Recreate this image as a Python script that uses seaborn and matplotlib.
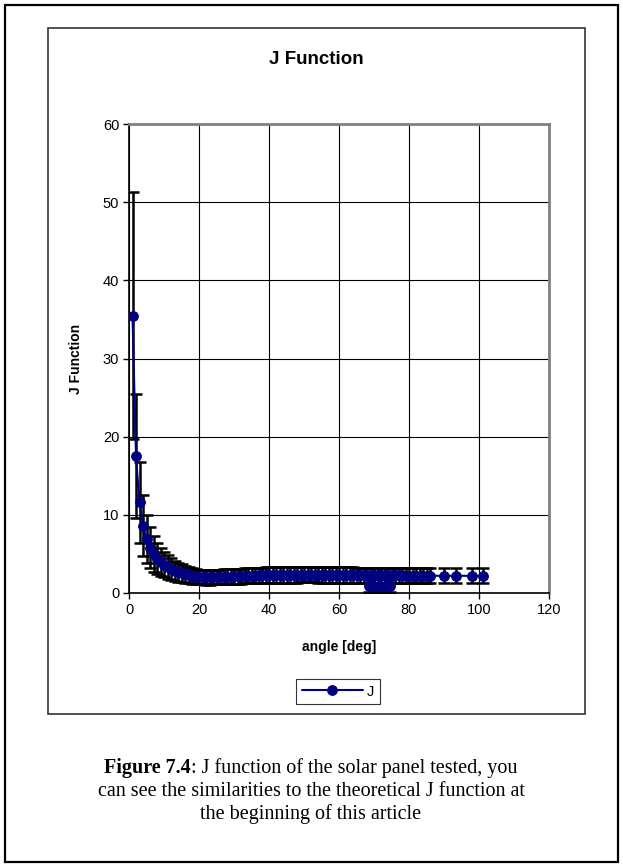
import matplotlib
matplotlib.use("Agg")
import matplotlib.pyplot as plt
from matplotlib.patches import Rectangle
import seaborn as sns
import pandas as pd

# main series
angle = [1, 2, 3, 4, 5, 6, 7, 8, 9, 10,
         11, 12, 13, 14, 15, 16, 17, 18, 19, 20,
         21, 22, 23, 24, 25, 26, 27, 28, 29, 30,
         31, 32, 33, 34, 35, 36, 37, 38, 39, 40,
         41, 42, 43, 44, 45, 46, 47, 48, 49, 50,
         51, 52, 53, 54, 55, 56, 57, 58, 59, 60,
         61, 62, 63, 64, 65, 66, 67, 68, 69, 70,
         71, 72, 73, 74, 75, 76, 77, 78, 79, 80,
         81, 82, 83, 84, 85, 86, 90, 93.5, 98, 101]
j_value = [35.5, 17.5, 11.6, 8.6, 6.9, 5.8, 5.0, 4.4, 3.95, 3.6,
           3.3, 3.05, 2.85, 2.65, 2.5, 2.38, 2.27, 2.18, 2.1, 2.05,
           2.02, 2.0, 2.0, 2.01, 2.03, 2.05, 2.07, 2.09, 2.11, 2.13,
           2.15, 2.17, 2.19, 2.2, 2.22, 2.23, 2.25, 2.26, 2.27, 2.28,
           2.29, 2.3, 2.31, 2.32, 2.33, 2.33, 2.34, 2.34, 2.35, 2.35,
           2.35, 2.35, 2.35, 2.34, 2.34, 2.34, 2.33, 2.33, 2.32, 2.32,
           2.31, 2.31, 2.3, 2.3, 2.29, 2.29, 2.28, 2.28, 2.27, 2.27,
           2.26, 2.26, 2.25, 2.25, 2.25, 2.24, 2.24, 2.24, 2.23, 2.23,
           2.23, 2.22, 2.22, 2.22, 2.21, 2.21, 2.2, 2.2, 2.2, 2.2]
j_err = [15.8, 7.9, 5.2, 3.9, 3.1, 2.6, 2.25, 2.0, 1.8, 1.6,
         1.5, 1.4, 1.3, 1.2, 1.15, 1.1, 1.05, 1.0, 0.97, 0.95,
         0.93, 0.92, 0.92, 0.92, 0.93, 0.93, 0.94, 0.94, 0.95, 0.95,
         0.96, 0.96, 0.97, 0.97, 0.98, 0.98, 0.99, 0.99, 1.0, 1.0,
         1.0, 1.0, 1.0, 1.0, 1.0, 1.0, 1.0, 1.0, 1.0, 1.0,
         1.0, 1.0, 1.0, 1.0, 1.0, 1.0, 1.0, 1.0, 1.0, 1.0,
         0.98, 0.98, 0.98, 0.97, 0.97, 0.97, 0.96, 0.96, 0.96, 0.96,
         0.95, 0.95, 0.95, 0.95, 0.95, 0.95, 0.95, 0.95, 0.95, 0.95,
         0.95, 0.95, 0.95, 0.95, 0.95, 0.95, 0.95, 0.95, 0.95, 0.95]

# small group of low points around 70 deg
angle_low = [68.5, 70, 71.5, 73, 74.5]
j_low = [0.93, 0.93, 0.93, 0.93, 0.93]
err_low = [0.8, 0.8, 0.8, 0.8, 0.8]

x_ticks = [0, 20, 40, 60, 80, 100, 120]
y_ticks = [0, 10, 20, 30, 40, 50, 60]

navy = "#000080"
W, H = 623, 865

sns.set_style("white")
plt.rcParams['font.family'] = ['Liberation Sans', 'DejaVu Sans']
plt.rcParams['text.color'] = 'black'
plt.rcParams['axes.labelcolor'] = 'black'
plt.rcParams['xtick.color'] = 'black'
plt.rcParams['ytick.color'] = 'black'

fig = plt.figure(figsize=(W / 100, H / 100), dpi=100)
ax = fig.add_axes([129 / W, 1 - 593 / H, 420 / W, 469 / H])

df = pd.DataFrame({"angle": angle, "J": j_value})
df_low = pd.DataFrame({"angle": angle_low, "J": j_low})

ax.errorbar(angle, j_value, yerr=j_err, fmt="none", ecolor="black",
            elinewidth=1.8, capsize=4.5, capthick=1.8, zorder=2)
ax.errorbar(angle_low, j_low, yerr=err_low, fmt="none", ecolor="black",
            elinewidth=1.8, capsize=4.5, capthick=1.8, zorder=2)
sns.lineplot(data=df, x="angle", y="J", sort=False, color=navy, linewidth=1.5,
             marker="o", markersize=7, markeredgecolor=navy, label="J",
             ax=ax, zorder=3)
sns.lineplot(data=df_low, x="angle", y="J", sort=False, color=navy, linewidth=1.5,
             marker="o", markersize=7, markeredgecolor=navy, legend=False,
             ax=ax, zorder=3)

ax.set_xlim(0, 120)
ax.set_ylim(0, 60)
ax.set_xticks(x_ticks)
ax.set_yticks(y_ticks)
ax.grid(True, color="black", linewidth=0.8)
ax.set_axisbelow(True)
ax.tick_params(axis="both", direction="out", length=4, width=1, color="black",
               labelsize=10.5, pad=3, left=True, bottom=True)
for side in ["left", "bottom"]:
    ax.spines[side].set_color("black")
    ax.spines[side].set_linewidth(1.2)
for side in ["top", "right"]:
    ax.spines[side].set_color("#808080")
    ax.spines[side].set_linewidth(2)

ax.set_xlabel("angle [deg]", fontsize=10, fontweight="bold")
ax.set_ylabel("J Function", fontsize=10, fontweight="bold")
ax.xaxis.set_label_coords(0.5, -0.1)
ax.yaxis.set_label_coords(-0.11, 0.5)

ax.legend_.remove()
handles, labels = ax.get_legend_handles_labels()
leg = fig.legend(handles, labels, loc="center", bbox_to_anchor=(338 / W, 1 - 691.5 / H),
                 fontsize=10.5, frameon=True, fancybox=False, edgecolor="black",
                 handlelength=4.2, borderpad=0.35, handletextpad=0.3)
leg.get_frame().set_linewidth(0.8)

fig.text(316 / W, 1 - 60 / H, "J Function", ha="center", va="center",
         fontsize=13.5, fontweight="bold")

# chart area box and page border
fig.patches.append(Rectangle((48 / W, 1 - 714 / H), 537 / W, 686 / H, transform=fig.transFigure,
                             fill=False, edgecolor="#333333", linewidth=1.2))
fig.patches.append(Rectangle((5 / W, 3 / H), 613 / W, 857 / H, transform=fig.transFigure,
                             fill=False, edgecolor="black", linewidth=1.6))

# caption
serif = ['Liberation Serif', 'DejaVu Serif']
cap_size = 14.5
renderer = fig.canvas.get_renderer()
bold_part = fig.text(0, 0, "Figure 7.4", family=serif, fontsize=cap_size, fontweight="bold",
                     va="center")
rest_part = fig.text(0, 0, ": J function of the solar panel tested, you", family=serif,
                     fontsize=cap_size, va="center")
wb = bold_part.get_window_extent(renderer).width
wr = rest_part.get_window_extent(renderer).width
x0 = 311 - (wb + wr) / 2
y1 = 1 - 768 / H
bold_part.set_position((x0 / W, y1))
rest_part.set_position(((x0 + wb) / W, y1))
fig.text(311 / W, 1 - 791 / H, "can see the similarities to the theoretical J function at",
         family=serif, fontsize=cap_size, ha="center", va="center")
fig.text(311 / W, 1 - 814 / H, "the beginning of this article",
         family=serif, fontsize=cap_size, ha="center", va="center")

fig.savefig("out.png", dpi=100)
